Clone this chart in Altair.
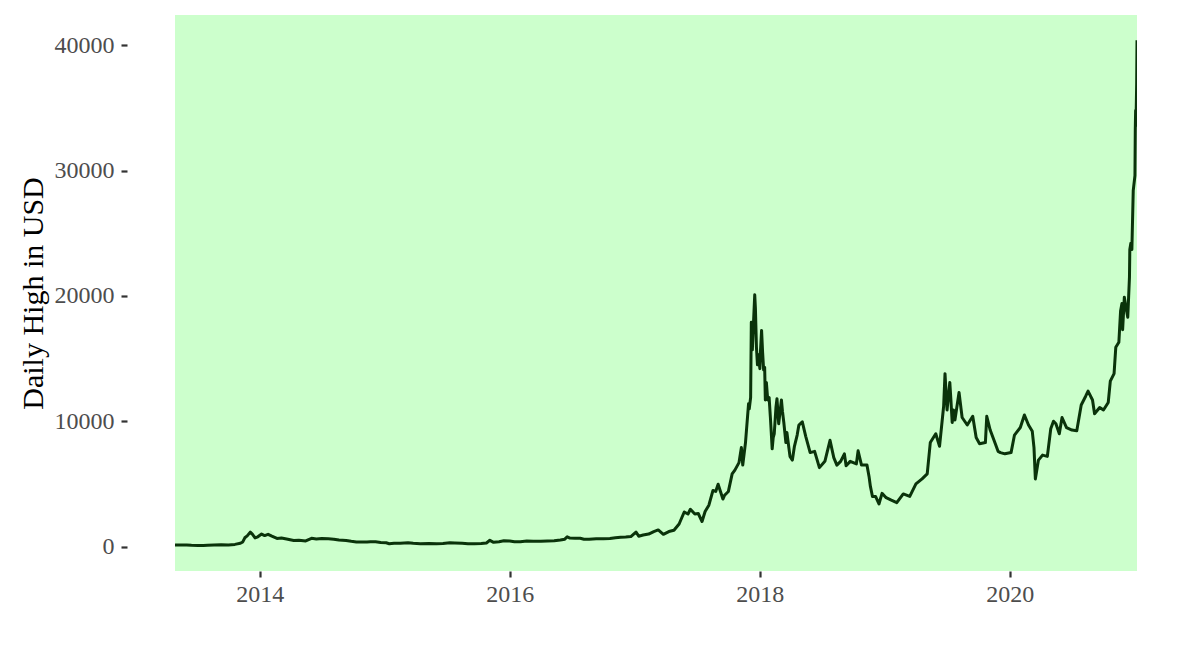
import altair as alt
import pandas as pd

# Daily high of Bitcoin in USD
dates = [
    "2013-04-28", "2013-05-15", "2013-06-01", "2013-06-15", "2013-07-05", "2013-07-20",
    "2013-08-01", "2013-08-20", "2013-09-10", "2013-10-01", "2013-10-20", "2013-11-05",
    "2013-11-12", "2013-11-18", "2013-11-25", "2013-12-04", "2013-12-10", "2013-12-18",
    "2013-12-26", "2014-01-06", "2014-01-15", "2014-01-25", "2014-02-05", "2014-02-20",
    "2014-03-05", "2014-03-20", "2014-04-10", "2014-04-25", "2014-05-15", "2014-06-01",
    "2014-06-15", "2014-07-01", "2014-07-20", "2014-08-05", "2014-08-20", "2014-09-10",
    "2014-09-25", "2014-10-10", "2014-10-25", "2014-11-10", "2014-11-20", "2014-12-05",
    "2014-12-20", "2015-01-05", "2015-01-14", "2015-01-28", "2015-02-15", "2015-03-10",
    "2015-03-25", "2015-04-15", "2015-05-10", "2015-06-01", "2015-06-20", "2015-07-10",
    "2015-07-25", "2015-08-15", "2015-09-01", "2015-09-20", "2015-10-10", "2015-10-25",
    "2015-11-04", "2015-11-15", "2015-12-01", "2015-12-15", "2016-01-01", "2016-01-15",
    "2016-02-01", "2016-02-20", "2016-03-10", "2016-04-01", "2016-04-20", "2016-05-10",
    "2016-05-28", "2016-06-10", "2016-06-17", "2016-06-25", "2016-07-10", "2016-07-25",
    "2016-08-05", "2016-08-20", "2016-09-10", "2016-10-01", "2016-10-20", "2016-11-05",
    "2016-11-20", "2016-12-05", "2016-12-20", "2017-01-04", "2017-01-12", "2017-01-25",
    "2017-02-10", "2017-02-25", "2017-03-10", "2017-03-25", "2017-04-10", "2017-04-25",
    "2017-05-10", "2017-05-25", "2017-06-05", "2017-06-12", "2017-06-25", "2017-07-05",
    "2017-07-16", "2017-07-25", "2017-08-05", "2017-08-17", "2017-08-25", "2017-09-01",
    "2017-09-15", "2017-09-20", "2017-10-01", "2017-10-12", "2017-10-20", "2017-11-01",
    "2017-11-08", "2017-11-12", "2017-11-20", "2017-11-29", "2017-12-01", "2017-12-05",
    "2017-12-07", "2017-12-10", "2017-12-13", "2017-12-17", "2017-12-19", "2017-12-22",
    "2017-12-25", "2017-12-28", "2018-01-01", "2018-01-03", "2018-01-06", "2018-01-09",
    "2018-01-12", "2018-01-15", "2018-01-17", "2018-01-20", "2018-01-24", "2018-01-28",
    "2018-02-01", "2018-02-06", "2018-02-09", "2018-02-12", "2018-02-17", "2018-02-20",
    "2018-02-25", "2018-03-05", "2018-03-08", "2018-03-12", "2018-03-18", "2018-03-21",
    "2018-03-30", "2018-04-06", "2018-04-12", "2018-04-20", "2018-04-25", "2018-05-05",
    "2018-05-15", "2018-05-28", "2018-06-10", "2018-06-24", "2018-07-10", "2018-07-25",
    "2018-08-05", "2018-08-14", "2018-08-25", "2018-09-05", "2018-09-10", "2018-09-22",
    "2018-10-10", "2018-10-15", "2018-10-25", "2018-11-10", "2018-11-16", "2018-11-20",
    "2018-11-26", "2018-12-05", "2018-12-15", "2018-12-24", "2019-01-05", "2019-01-20",
    "2019-02-05", "2019-02-24", "2019-03-15", "2019-04-02", "2019-04-20", "2019-05-05",
    "2019-05-14", "2019-05-30", "2019-06-10", "2019-06-22", "2019-06-26", "2019-06-29",
    "2019-07-02", "2019-07-10", "2019-07-13", "2019-07-17", "2019-07-21", "2019-07-25",
    "2019-08-06", "2019-08-15", "2019-08-30", "2019-09-15", "2019-09-25", "2019-10-05",
    "2019-10-22", "2019-10-26", "2019-11-05", "2019-11-20", "2019-11-28", "2019-12-05",
    "2019-12-18", "2020-01-05", "2020-01-15", "2020-02-01", "2020-02-13", "2020-02-25",
    "2020-03-07", "2020-03-12", "2020-03-16", "2020-03-25", "2020-04-06", "2020-04-20",
    "2020-04-30", "2020-05-08", "2020-05-15", "2020-05-25", "2020-06-02", "2020-06-15",
    "2020-07-01", "2020-07-15", "2020-07-28", "2020-08-10", "2020-08-17", "2020-08-30",
    "2020-09-05", "2020-09-20", "2020-10-01", "2020-10-15", "2020-10-21", "2020-11-01",
    "2020-11-06", "2020-11-15", "2020-11-20", "2020-11-24", "2020-11-26", "2020-12-01",
    "2020-12-05", "2020-12-11", "2020-12-16", "2020-12-17", "2020-12-20", "2020-12-23",
    "2020-12-27", "2021-01-01", "2021-01-02", "2021-01-03", "2021-01-04", "2021-01-06",
    "2021-01-07",
]
highs = [
    135, 120, 129, 103, 80, 92,
    107, 123, 137, 132, 175, 260,
    370, 700, 850, 1156, 1000, 690,
    780, 1000, 880, 980, 830, 650,
    680, 600, 480, 510, 450, 660,
    600, 650, 630, 590, 520, 480,
    420, 370, 360, 370, 390, 380,
    330, 300, 230, 270, 260, 300,
    260, 230, 245, 230, 250, 300,
    295, 270, 235, 235, 250, 290,
    500, 340, 380, 460, 440, 380,
    380, 440, 420, 420, 445, 460,
    530, 590, 780, 680, 670, 660,
    590, 580, 625, 615, 640, 710,
    750, 770, 800, 1160, 830, 920,
    1000, 1200, 1330, 980, 1200, 1300,
    1800, 2760, 2600, 2980, 2600, 2640,
    2000, 2800, 3300, 4480, 4400, 4980,
    3790, 4100, 4400, 5800, 6100, 6700,
    7900, 6500, 8300, 11400, 11000, 11900,
    17900, 15700, 17600, 20090, 19000, 15900,
    14500, 15300, 14200, 15700, 17250, 15500,
    14100, 14300, 11700, 13100, 11700, 11900,
    10200, 7800, 8700, 9000, 11100, 11800,
    9800, 11700, 10800, 9900, 8300, 9100,
    7200, 6900, 8000, 8900, 9700, 9950,
    8800, 7500, 7600, 6300, 6800, 8480,
    7100, 6500, 6800, 7400, 6450, 6800,
    6600, 7640, 6500, 6500, 5600, 4800,
    4000, 4000, 3400, 4250, 3900, 3700,
    3500, 4200, 4000, 5000, 5400, 5800,
    8300, 9000, 8000, 11200, 13800, 12300,
    10900, 13100, 11800, 9900, 10900, 10100,
    12300, 10300, 9700, 10400, 8700, 8200,
    8300, 10400, 9300, 8200, 7600, 7500,
    7400, 7500, 8900, 9500, 10500, 9700,
    9200, 7900, 5400, 6900, 7300, 7200,
    9400, 10000, 9800, 9000, 10300, 9500,
    9300, 9250, 11300, 12000, 12400, 11700,
    10600, 11100, 10900, 11500, 13200, 13800,
    15900, 16300, 18800, 19400, 17300, 19900,
    19200, 18300, 21500, 23700, 24200, 23700,
    28400, 29600, 33300, 34800, 33600, 36900,
    40400,
]

y_ticks = [0, 10000, 20000, 30000, 40000]
x_tick_years = [2014, 2016, 2018, 2020]

df = pd.DataFrame({"date": dates, "high": highs})

FONT = "Liberation Serif"

chart = (
    alt.Chart(df)
    .mark_line(color="#0A330A", strokeWidth=3, strokeJoin="round", clip=True)
    .encode(
        x=alt.X(
            "date:T",
            title=None,
            scale=alt.Scale(domain=["2013-04-28", "2021-01-07"], nice=False),
            axis=alt.Axis(
                values=[alt.DateTime(year=yr, month=1, date=1) for yr in x_tick_years],
                format="%Y",
                grid=False,
                domain=False,
                tickSize=6,
                tickWidth=2.2,
                tickColor="#333333",
                labelPadding=5,
                labelFont=FONT,
                labelFontSize=24,
                labelColor="#4D4D4D",
            ),
        ),
        y=alt.Y(
            "high:Q",
            title="Daily High in USD",
            scale=alt.Scale(domain=[-1949, 42419], nice=False, zero=False),
            axis=alt.Axis(
                values=y_ticks,
                format="d",
                grid=False,
                domain=False,
                offset=48,
                tickSize=6,
                tickWidth=2.2,
                tickColor="#333333",
                labelPadding=7,
                labelFont=FONT,
                labelFontSize=24,
                labelColor="#4D4D4D",
                titleFont=FONT,
                titleFontSize=30,
                titleFontWeight="normal",
                titleColor="#000000",
                titlePadding=6,
            ),
        ),
    )
    .properties(width=962, height=556)
    .configure_view(fill="#CCFFCC", stroke=None)
    .properties(
        autosize=alt.AutoSizeParams(type="none"),
        padding={"left": 167, "top": 7, "right": 40, "bottom": 60},
        background="#FFFFFF",
    )
)

chart.save("out.html", embed_options={"renderer": "svg", "actions": False})
